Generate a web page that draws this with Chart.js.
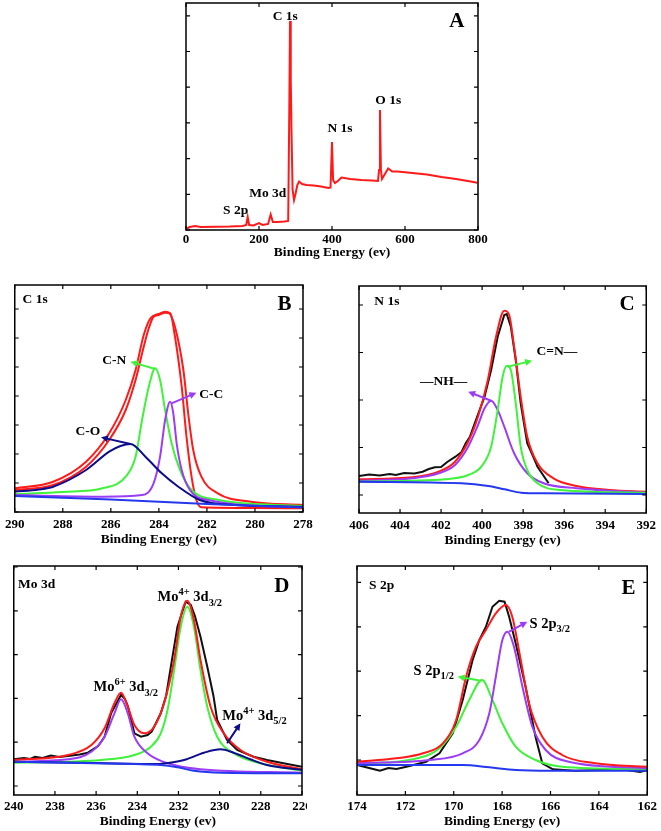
<!DOCTYPE html>
<html>
<head>
<meta charset="utf-8">
<script src="https://cdn.jsdelivr.net/npm/chart.js@4.4.1/dist/chart.umd.min.js"></script>
<style>
  body { margin: 0; background: #fff; }
  #wrap { position: relative; width: 661px; height: 831px; }
  canvas { position: absolute; left: 0; top: 0; }
  /* the original figure crops the last tick label of panel D */
  #chartD { clip-path: inset(0 354px 0 0); }
</style>
</head>
<body>
<div id="wrap">
  <canvas id="chartA" width="661" height="831"></canvas>
  <canvas id="chartB" width="661" height="831"></canvas>
  <canvas id="chartC" width="661" height="831"></canvas>
  <canvas id="chartD" width="661" height="831"></canvas>
  <canvas id="chartE" width="661" height="831"></canvas>
</div>
<script>
// ---- A: survey spectrum ----
const aEnergy = [0, 10, 25, 40, 80, 120, 155, 165, 169, 173, 185, 200, 210, 225, 232, 238, 250, 270, 280, 283, 285, 287, 289, 292, 296, 300, 305, 310, 318, 330, 350, 370, 390, 396, 400, 403, 408, 416, 426, 450, 480, 510, 526, 529, 531.5, 534, 537, 545, 554, 565, 580, 620, 660, 700, 740, 780, 798];
const aIntensity = [1, 3, 4, 3, 3.3, 3.5, 4, 5, 13, 5, 4.5, 7, 5, 6, 15.5, 8, 8, 8.5, 9, 120, 209, 150, 100, 40, 30, 36, 45, 48.5, 46, 45, 44.5, 43.5, 42, 42.5, 88, 50, 47, 49, 52.5, 51, 50, 49.5, 49, 60, 120, 60, 51, 56, 61.5, 58.5, 58.5, 57, 55.5, 53, 51, 48.5, 47.3];

// ---- B: C 1s ----
const bDataE = [290, 288.4, 287.03, 286.07, 285.38, 284.97, 284.63, 284.42, 284.22, 284.01, 283.74, 283.53, 283.33, 283.05, 282.85, 282.64, 282.44, 282.23, 280, 278];
const bDataI = [22, 27, 45.3, 72, 102, 132, 165.3, 183.7, 195.3, 197, 199.3, 198.7, 175.3, 125.3, 75.3, 35.3, 12, 4.7, 4, 3.7];
const bFitE = [290, 288.4, 287.03, 286.07, 285.38, 284.97, 284.63, 284.35, 284.01, 283.74, 283.6, 283.33, 282.98, 282.78, 282.57, 282.23, 281.55, 280.18, 278];
const bFitI = [23.7, 30.3, 50.3, 78.7, 112, 142, 177, 193.7, 198, 200.3, 199.7, 185.3, 142, 98.7, 62, 35.3, 18.7, 10.3, 7];
const bCNE = [290, 288, 286.34, 285.38, 284.97, 284.7, 284.42, 284.15, 283.95, 283.74, 283.47, 283.12, 282.64, 281.5, 278];
const bCNI = [18, 20, 23.7, 35.3, 55.3, 92, 125.3, 143.7, 132, 102, 68.7, 42, 22, 12, 6];
const bCCE = [290, 286.3, 284.7, 284.22, 283.95, 283.74, 283.53, 283.4, 283.26, 283.05, 282.71, 281.96, 278];
const bCCI = [17, 15.3, 17, 28.7, 55.3, 92, 110.3, 98.7, 68.7, 42, 22, 12, 4.7];
const bCOE = [290, 289, 288.4, 287.03, 286.07, 285.6, 285.18, 284.56, 283.88, 283.19, 282.3, 280.86, 278];
const bCOI = [20.3, 22.5, 25.3, 42, 60.3, 66, 68, 55.3, 38.7, 25.3, 12, 7, 5.3];
const bBaseE = [290, 286, 282, 278];
const bBaseI = [16, 12.5, 8, 4.5];

// ---- C: N 1s ----
const cDataE = [406, 405.5, 405, 404.5, 404.2, 403.8, 403.3, 402.9, 402.6, 402.3, 402, 401.7, 401.3, 401, 400.8, 400.6, 400.36, 399.88, 399.56, 399.24, 398.92, 398.8, 398.6, 398.36, 398.12, 397.8, 397.5, 397.3, 396.76];
const cDataI = [19, 20.5, 19.5, 21, 20, 22, 21.5, 23.3, 26, 27.7, 28, 33, 38.3, 43, 51.7, 58, 71.7, 98.3, 125, 158.3, 180, 181, 168.3, 135, 91.7, 51.7, 38, 28.3, 11.7];
const cFitE = [406, 403.4, 402.12, 401.32, 400.68, 400.2, 399.72, 399.32, 398.92, 398.68, 398.44, 398.12, 397.8, 397.3, 396.52, 395.4, 393.8, 392];
const cFitI = [15.7, 17.7, 23.3, 33.3, 53.3, 78.3, 115, 158.3, 184.3, 180, 148.3, 98.3, 58.3, 31.7, 16.7, 9, 5, 3.3];
const cNHE = [406, 403.4, 402.12, 401.32, 400.68, 400.2, 399.88, 399.56, 399.24, 398.92, 398.44, 397.8, 397, 395.4, 392];
const cNHI = [14.3, 16.7, 21.7, 30, 48.3, 70, 86.7, 94.3, 85, 68.3, 41.7, 21.7, 11.7, 6.7, 2.3];
const cCNE = [406, 401.8, 400.68, 400.04, 399.56, 399.24, 399, 398.79, 398.6, 398.36, 398.12, 397.8, 397.3, 396.2, 392];
const cCNI = [13.3, 15.7, 20, 28.3, 48.3, 85, 118.3, 129.3, 125, 91.7, 48.3, 25, 11.7, 5, 2.3];
const cBaseE = [406, 401, 399.7, 398.9, 398.1, 397, 392];
const cBaseI = [13.3, 11.7, 9, 5.7, 2.3, 1.7, 1];

// ---- D: Mo 3d ----
const dDataE = [240, 239.5, 239.2, 238.97, 238.6, 238.2, 237.8, 237.36, 236.8, 236.4, 235.9, 235.59, 235.27, 234.95, 234.79, 234.6, 234.46, 234.3, 234.14, 233.82, 233.5, 233.3, 232.86, 232.6, 232.37, 232.05, 231.65, 231.4, 231.2, 230.93, 230.6, 230.3, 230.12, 229.64, 229.15, 228.35, 227.7, 226.9, 226];
const dDataI = [26.7, 28, 27, 29.3, 28, 30.5, 29, 30, 31.5, 33.3, 40, 49.3, 72.7, 85, 91, 87, 80, 66, 52.7, 49.3, 51, 54.3, 72.7, 90, 119.3, 159.3, 184.3, 181, 170, 149.3, 119.3, 90, 66, 46, 36, 29.3, 26, 22.7, 19.3];
const dFitE = [240, 237.36, 236.23, 235.59, 235.11, 234.79, 234.46, 234.14, 233.66, 233.18, 232.7, 232.21, 231.89, 231.57, 231.25, 230.93, 230.44, 229.8, 228.99, 227.7, 226];
const dFitI = [26, 31, 41, 57.7, 82.7, 93.3, 79.3, 61, 52.7, 59.3, 82.7, 126, 169.3, 185.3, 166, 126, 79.3, 52.7, 36, 24.3, 16.7];
const dMo4E = [240, 235.75, 234.14, 233.34, 232.86, 232.53, 232.21, 231.89, 231.57, 231.25, 230.93, 230.6, 230.12, 229.32, 228.03, 226];
const dMo4I = [23.3, 26, 31, 39.3, 52.7, 76, 116, 159.3, 179.3, 159.3, 116, 79.3, 49.3, 32.7, 22.7, 15.3];
const dMo6E = [240, 237.36, 236.23, 235.59, 235.11, 234.79, 234.46, 234.14, 233.5, 232.53, 230.93, 226];
const dMo6I = [24.3, 26.7, 34.3, 49.3, 72.7, 86.7, 72.7, 49.3, 32.7, 22.7, 16.7, 13.3];
const dMo4bE = [240, 236, 233, 232.5, 231.73, 230.76, 229.96, 229.32, 228.51, 227.7, 226];
const dMo4bI = [24.3, 23, 22, 23, 26, 33.3, 36.7, 33.3, 26.7, 21, 16];
const dBaseE = [240, 234.14, 232.86, 232.05, 231.25, 229.9, 226];
const dBaseI = [24.3, 22, 21, 18.7, 15.3, 13.3, 12.7];

// ---- E: S 2p ----
const eDataE = [174, 173.5, 173.05, 172.7, 172.37, 171.96, 171.5, 171.14, 170.59, 170.04, 169.63, 169.22, 168.94, 168.67, 168.4, 168.12, 167.9, 167.71, 167.44, 167.03, 166.62, 166.34, 165.9, 165, 163, 162.3, 162];
const eDataI = [-5, -8, -10.7, -8, -9, -6.7, -4, -1.7, 6.7, 26.7, 60, 100, 120, 133.3, 153.3, 159.3, 158.3, 143.3, 116.7, 73.3, 23.3, -3.3, -9.3, -10.7, -9.5, -12, -10];
const eFitE = [174, 172.37, 171.27, 170.45, 169.9, 169.49, 169.08, 168.67, 168.26, 167.85, 167.58, 167.23, 166.89, 166.34, 165.52, 164.15, 162];
const eFitI = [-1.7, 1.7, 6.7, 16.7, 40, 83.3, 113.3, 130, 146.7, 155, 143.3, 100, 56.7, 23.3, 5, -3.3, -6.7];
const eP32E = [174, 171, 169.63, 168.94, 168.53, 168.26, 167.99, 167.78, 167.51, 167.16, 166.75, 166.2, 165.25, 162];
const eP32I = [-3.3, 0, 6.7, 20, 46.7, 83.3, 120, 128.3, 113.3, 73.3, 33.3, 10, -1.7, -8.3];
const eP12E = [174, 171.69, 170.59, 169.9, 169.36, 168.83, 168.4, 167.99, 167.44, 166.62, 165.52, 162];
const eP12I = [-4, 0.7, 11.7, 33.3, 60, 80, 60, 36.7, 13.3, 0, -6.7, -9.3];
const eBaseE = [174, 169.63, 168.53, 167.44, 166, 162];
const eBaseI = [-5, -5, -7.3, -10, -10.7, -10.7];

const RED = '#ff1a1a', GREEN = '#3ff23a', PURPLE = '#9b3cf6', NAVY = '#0c0c8c', BLUE = '#2438ee', BLACK = '#111';
const SERIF = "'Liberation Serif', 'Times New Roman', serif";

// text and arrows, placed in data coordinates
const NOTES = {
    chartA: {
        texts: [
            { x: 272, y: 214, parts: [['C 1s']] },
            { x: 422, y: 102, parts: [['N 1s']] },
            { x: 554, y: 130, parts: [['O 1s']] },
            { x: 224, y: 37, parts: [['Mo 3d']] },
            { x: 136, y: 20, parts: [['S 2p']] },
            { x: 742, y: 210, parts: [['A']], size: 21 }
        ],
        arrows: []
    },
    chartB: {
        texts: [
            { x: 289.15, y: 213.7, parts: [['C 1s']] },
            { x: 278.77, y: 208.7, parts: [['B']], size: 21 },
            { x: 285.86, y: 152.7, parts: [['C-N']] },
            { x: 281.82, y: 118, parts: [['C-C']] },
            { x: 286.96, y: 81.3, parts: [['C-O']] }
        ],
        arrows: [
            { from: [284.15, 143], to: [285.18, 150.3], color: GREEN },
            { from: [283.47, 108.7], to: [282.44, 119.3], color: PURPLE },
            { from: [285.18, 68], to: [286.41, 74.7], color: NAVY }
        ]
    },
    chartC: {
        texts: [
            { x: 404.64, y: 194.3, parts: [['N 1s']] },
            { x: 392.93, y: 191.7, parts: [['C']], size: 21 },
            { x: 401.88, y: 114, parts: [['\u2014NH\u2014']] },
            { x: 396.36, y: 144.3, parts: [['C=N\u2014']] }
        ],
        arrows: [
            { from: [399.56, 94.3], to: [400.68, 103.3], color: PURPLE },
            { from: [398.76, 128.3], to: [397.56, 134.3], color: GREEN }
        ]
    },
    chartD: {
        texts: [
            { x: 238.89, y: 202.7, parts: [['Mo 3d']] },
            { x: 226.98, y: 201, parts: [['D']], size: 21 },
            { x: 231.45, y: 189.3, parts: [['Mo'], ['4+', 'sup'], [' 3d'], ['3/2', 'sub']], size: 14.5 },
            { x: 234.56, y: 99.3, parts: [['Mo'], ['6+', 'sup'], [' 3d'], ['3/2', 'sub']], size: 14.5 },
            { x: 228.31, y: 71, parts: [['Mo'], ['4+', 'sup'], [' 3d'], ['5/2', 'sub']], size: 14.5 }
        ],
        arrows: [
            { from: [229.64, 42.7], to: [228.99, 62.7], color: NAVY }
        ]
    },
    chartE: {
        texts: [
            { x: 172.98, y: 175, parts: [['S 2p']] },
            { x: 162.78, y: 173.3, parts: [['E']], size: 21 },
            { x: 166.03, y: 136.7, parts: [['S 2p'], ['3/2', 'sub']], size: 14.5 },
            { x: 170.83, y: 90, parts: [['S 2p'], ['1/2', 'sub']], size: 14.5 }
        ],
        arrows: [
            { from: [167.71, 128.3], to: [166.96, 138.3], color: PURPLE },
            { from: [168.87, 79.3], to: [169.84, 83.3], color: GREEN }
        ]
    }
};

function drawRich(ctx, parts, cx, cy, size) {
    const fontFor = k => `bold ${k ? size * 0.72 : size}px ${SERIF}`;
    let w = 0;
    parts.forEach(([t, k]) => { ctx.font = fontFor(k); w += ctx.measureText(t).width; });
    let xx = cx - w / 2;
    const base = cy + size * 0.33;
    ctx.textAlign = 'left';
    ctx.textBaseline = 'alphabetic';
    parts.forEach(([t, k]) => {
        ctx.font = fontFor(k);
        const dy = k === 'sup' ? -size * 0.42 : k === 'sub' ? size * 0.3 : 0;
        ctx.fillText(t, xx, base + dy);
        xx += ctx.measureText(t).width;
    });
}

function drawArrow(ctx, x1, y1, x2, y2, color) {
    const ang = Math.atan2(y2 - y1, x2 - x1), L = 7, W = 3.5;
    ctx.strokeStyle = color;
    ctx.fillStyle = color;
    ctx.lineWidth = 2;
    ctx.beginPath();
    ctx.moveTo(x1, y1);
    ctx.lineTo(x2 - L * 0.7 * Math.cos(ang), y2 - L * 0.7 * Math.sin(ang));
    ctx.stroke();
    ctx.beginPath();
    ctx.moveTo(x2, y2);
    ctx.lineTo(x2 - L * Math.cos(ang) + W * Math.sin(ang), y2 - L * Math.sin(ang) - W * Math.cos(ang));
    ctx.lineTo(x2 - L * Math.cos(ang) - W * Math.sin(ang), y2 - L * Math.sin(ang) + W * Math.cos(ang));
    ctx.closePath();
    ctx.fill();
}

// frame with inward ticks on all sides, plus the labels
const framePlugin = {
    id: 'frame',
    afterDraw(chart) {
        const { ctx, chartArea: a, scales: { x, y } } = chart;
        ctx.save();
        ctx.strokeStyle = '#000';
        ctx.lineWidth = 1.5;
        ctx.strokeRect(a.left, a.top, a.width, a.height);
        ctx.lineWidth = 1.2;
        const len = 4;
        ctx.beginPath();
        x.ticks.forEach(t => {
            const p = x.getPixelForValue(t.value);
            ctx.moveTo(p, a.bottom); ctx.lineTo(p, a.bottom - len);
            ctx.moveTo(p, a.top); ctx.lineTo(p, a.top + len);
        });
        y.ticks.forEach(t => {
            const p = y.getPixelForValue(t.value);
            ctx.moveTo(a.left, p); ctx.lineTo(a.left + len, p);
            ctx.moveTo(a.right, p); ctx.lineTo(a.right - len, p);
        });
        ctx.stroke();

        const notes = NOTES[chart.canvas.id];
        notes.arrows.forEach(ar => {
            drawArrow(ctx, x.getPixelForValue(ar.from[0]), y.getPixelForValue(ar.from[1]),
                x.getPixelForValue(ar.to[0]), y.getPixelForValue(ar.to[1]), ar.color);
        });
        ctx.fillStyle = '#000';
        notes.texts.forEach(t => {
            drawRich(ctx, t.parts, x.getPixelForValue(t.x), y.getPixelForValue(t.y), t.size || 13.5);
        });
        ctx.restore();
    }
};

function curve(xs, ys, color, smooth = true) {
    return {
        data: xs.map((v, i) => ({ x: v, y: ys[i] })),
        borderColor: color,
        borderWidth: 2,
        pointRadius: 0,
        fill: false,
        tension: 0,
        cubicInterpolationMode: smooth ? 'monotone' : 'default'
    };
}

function makePanel(id, box, xr, yr, datasets) {
    return new Chart(id, {
        type: 'line',
        data: { datasets },
        options: {
            responsive: false,
            animation: false,
            events: [],
            layout: {
                padding: { left: box.left, right: 661 - box.right, top: box.top, bottom: 831 - box.bottom - box.axisH }
            },
            plugins: { legend: { display: false }, tooltip: { enabled: false } },
            scales: {
                x: {
                    type: 'linear', min: xr.min, max: xr.max, reverse: xr.reverse,
                    grid: { display: false, drawTicks: false },
                    border: { display: false },
                    ticks: {
                        stepSize: xr.step, padding: box.tickPad, maxRotation: 0, autoSkip: false,
                        color: '#000', font: { family: SERIF, size: 13, weight: 'bold' }
                    },
                    title: {
                        display: true, text: 'Binding Energy (ev)', color: '#000', padding: 0,
                        font: { family: SERIF, size: 13.5, weight: 'bold' }
                    },
                    afterFit: s => { s.height = box.axisH; }
                },
                y: {
                    type: 'linear', min: yr.min, max: yr.max,
                    ticks: { display: false, stepSize: yr.step, includeBounds: false },
                    grid: { display: false, drawTicks: false },
                    border: { display: false },
                    afterFit: s => { s.width = 0; }
                }
            }
        },
        plugins: [framePlugin]
    });
}

makePanel('chartA', { left: 186, right: 478, top: 3, bottom: 230, axisH: 31, tickPad: 2 },
    { min: 0, max: 800, step: 200, reverse: false }, { min: 0, max: 227, step: 35.7 },
    [curve(aEnergy, aIntensity, RED, false)]);

makePanel('chartB', { left: 11, right: 303, top: 285, bottom: 512, axisH: 36, tickPad: 5 },
    { min: 278, max: 290, step: 2, reverse: true }, { min: 0, max: 227, step: 29 },
    [curve(bBaseE, bBaseI, BLUE, false), curve(bCOE, bCOI, NAVY), curve(bCCE, bCCI, PURPLE),
     curve(bCNE, bCNI, GREEN), curve(bFitE, bFitI, RED), curve(bDataE, bDataI, RED)]);

makePanel('chartC', { left: 359, right: 651, top: 286, bottom: 513, axisH: 36, tickPad: 5 },
    { min: 392, max: 406, step: 2, reverse: true }, { min: -18, max: 209, step: 47.5 },
    [curve(cBaseE, cBaseI, BLUE), curve(cCNE, cCNI, GREEN), curve(cNHE, cNHI, PURPLE),
     curve(cFitE, cFitI, RED), curve(cDataE, cDataI, BLACK, false)]);

makePanel('chartD', { left: 12, right: 302, top: 566, bottom: 795, axisH: 35, tickPad: 4 },
    { min: 226, max: 240, step: 2, reverse: true }, { min: -9, max: 220, step: 43.8 },
    [curve(dBaseE, dBaseI, BLUE), curve(dMo4bE, dMo4bI, NAVY), curve(dFitE, dFitI, RED),
     curve(dMo6E, dMo6I, PURPLE), curve(dMo4E, dMo4I, GREEN), curve(dDataE, dDataI, BLACK, false)]);

makePanel('chartE', { left: 357, right: 649, top: 566, bottom: 795, axisH: 35, tickPad: 4 },
    { min: 162, max: 174, step: 2, reverse: true }, { min: -35, max: 194, step: 44.4 },
    [curve(eBaseE, eBaseI, BLUE), curve(eFitE, eFitI, RED), curve(eP32E, eP32I, PURPLE),
     curve(eP12E, eP12I, GREEN), curve(eDataE, eDataI, BLACK, false)]);
</script>
</body>
</html>
